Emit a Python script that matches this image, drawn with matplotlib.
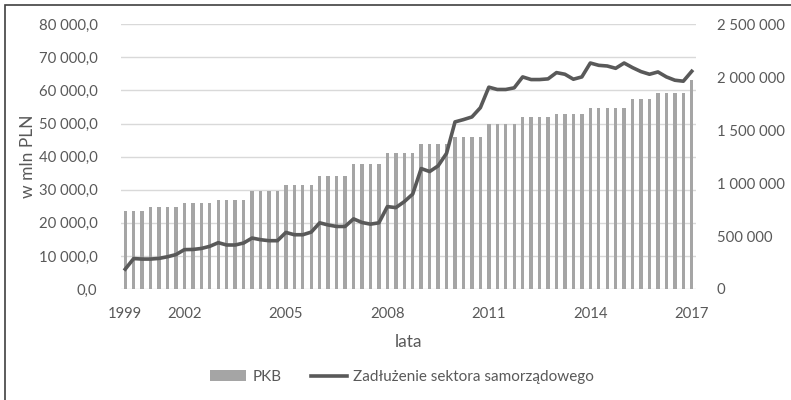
import matplotlib
matplotlib.use("Agg")
import matplotlib.pyplot as plt
from matplotlib.patches import Rectangle
from matplotlib.ticker import FuncFormatter, MultipleLocator

plt.rcParams['font.family'] = ['Lato', 'DejaVu Sans']

# ===== dane (kwartalnie, w mln PLN) =====
pkb = [739000] * 3 + [777000] * 4 + [809000] * 4 + [841000] * 4 + [928000] * 4 \
    + [986000] * 4 + [1064000] * 4 + [1180000] * 4 + [1281000] * 4 + [1366000] * 4 \
    + [1438000] * 4 + [1558000] * 4 + [1621000] * 4 + [1652000] * 4 + [1713000] * 5 \
    + [1792000] * 3 + [1852000] * 4 + [1977000]

zadluzenie = [
    6000, 9200, 9050, 9050, 9250, 9750, 10400, 11900, 11950, 12250,
    12900, 14000, 13300, 13300, 13900, 15400, 14900, 14600, 14600, 17100,
    16400, 16400, 17200, 20000, 19350, 18900, 18900, 21200, 20100, 19600,
    20000, 24900, 24600, 26400, 28700, 36400, 35500, 37200, 41000, 50500,
    51200, 52000, 54800, 61000, 60300, 60300, 60800, 64100, 63300, 63300,
    63500, 65400, 64900, 63400, 64100, 68300, 67600, 67400, 66700, 68300,
    66900, 65700, 64900, 65600, 64100, 63100, 62800, 65800,
]

# etykiety osi X (tylko wybrane kwartały)
etykiety = {0: "1999", 7: "2002", 19: "2005", 31: "2008", 43: "2011", 55: "2014", 67: "2017"}

txt = "#595959"
x = list(range(len(pkb)))

fig = plt.figure(figsize=(7.91, 4.0), dpi=100)
W, H = 791, 400
ax = fig.add_axes([121 / W, 1 - 289 / H, (696 - 121) / W, (289 - 24.3) / H])
ax_bar = ax.twinx()
ax_line = ax.twinx()

# siatka + lewa oś
ax.set_ylim(0, 80000)
ax.yaxis.set_major_locator(MultipleLocator(10000))
ax.yaxis.set_major_formatter(FuncFormatter(lambda v, p: f"{v:,.1f}".replace(",", " ").replace(".", ",")))
ax.grid(axis="y", color="#D9D9D9", linewidth=1.0)
ax.set_axisbelow(True)
ax.set_xlim(-0.5, len(pkb) - 0.5)

# słupki PKB - prawa oś
ax_bar.bar(x, pkb, width=0.4, color="#A5A5A5", label="PKB", zorder=2)
ax_bar.set_ylim(0, 2500000)
ax_bar.yaxis.set_major_locator(MultipleLocator(500000))
ax_bar.yaxis.set_major_formatter(FuncFormatter(lambda v, p: f"{v:,.0f}".replace(",", " ")))

# linia zadłużenia (skala lewej osi)
ax_line.plot(x, zadluzenie, color="#595959", linewidth=2.6, solid_joinstyle="round",
             label="Zadłużenie sektora samorządowego")
ax_line.set_ylim(0, 80000)
ax_line.set_yticks([])

for a in (ax, ax_bar, ax_line):
    for s in a.spines.values():
        s.set_visible(False)
    a.tick_params(length=0, labelsize=10.7, labelcolor=txt)

ax.tick_params(axis="y", pad=17)
ax_bar.tick_params(axis="y", pad=15)
ax.set_xticks(list(etykiety.keys()))
ax.set_xticklabels(list(etykiety.values()))
ax.tick_params(axis="x", pad=13)

fig.text(408 / W, 1 - 342 / H, "lata", ha="center", va="center", fontsize=12.5, color=txt)
fig.text(28 / W, 1 - 156 / H, "w mln PLN", ha="center", va="center", rotation=90,
         fontsize=12.5, color=txt)

h1, l1 = ax_bar.get_legend_handles_labels()
h2, l2 = ax_line.get_legend_handles_labels()
leg = fig.legend(h1 + h2, l1 + l2, loc="center", bbox_to_anchor=(402 / W, 1 - 377 / H),
                 ncol=2, frameon=False, fontsize=11, handlelength=2.4, handleheight=0.75,
                 handletextpad=0.4, columnspacing=1.9)
for t in leg.get_texts():
    t.set_color(txt)

# ramka wykresu
fig.patches.append(Rectangle((5 / W, -0.05), 1.0, 1 - 5 / H + 0.05, transform=fig.transFigure,
                             fill=False, edgecolor="#404040", linewidth=1.2))

plt.savefig("out.png", dpi=100)
